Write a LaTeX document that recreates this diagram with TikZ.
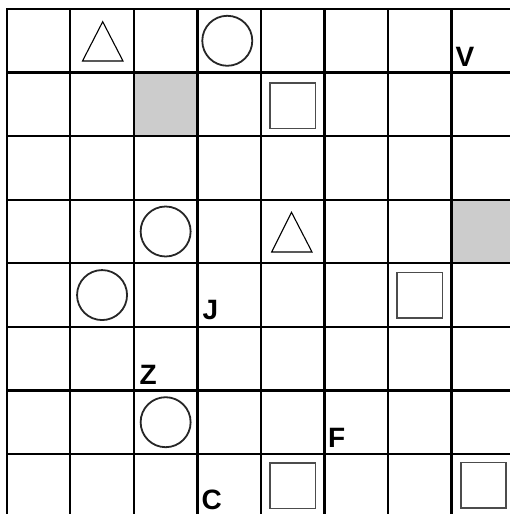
\documentclass[tikz,border=0pt]{standalone}
\usepackage{fontspec}
\setmainfont{Liberation Sans}
\tikzset{
  gridline/.style={line width=2.4pt, black, line cap=rect},
  shade/.style={fill=black!20, draw=none},
  circ/.style={circle, draw=black!85, line width=1.8pt, minimum size=50pt, inner sep=0pt},
  sq/.style={rectangle, draw=black!70, line width=1.6pt, minimum size=45.5pt, inner sep=0pt},
  tri/.style={draw=black, line width=1.1pt, line join=miter},
  lab/.style={font=\bfseries\fontsize{28}{28}\selectfont, inner sep=0pt, anchor=base west, text=black}
}
\begin{document}
\begin{tikzpicture}[x=1pt,y=-1pt]
\useasboundingbox (0,0) rectangle (510,514);
\fill[white] (0,0) rectangle (510,514);
\clip (0,0) rectangle (510,514);
\begin{scope}[shift={(6.7,9)}, x=63.57pt, y=-63.57pt]
  % grey cells
  \fill[shade] (2,1) rectangle (3,2);
  \fill[shade] (7,3) rectangle (8,4);
  % grid
  \foreach \i in {0,...,8} {
    \draw[gridline] (\i,0) -- (\i,8.2);
    \draw[gridline] (0,\i) -- (8.2,\i);
  }
  % circles
  \node[circ] (o1) at (3.47,0.5) {};
  \node[circ] (o2) at (2.5,3.5) {};
  \node[circ] (o3) at (1.5,4.5) {};
  \node[circ] (o4) at (2.5,6.5) {};
  % squares
  \node[sq] (s1) at (4.5,1.52) {};
  \node[sq] (s2) at (6.5,4.5) {};
  \node[sq] (s3) at (4.5,7.5) {};
  \node[sq] (s4) at (7.5,7.49) {};
\end{scope}
% triangles
\draw[tri] (102.7,21.7) -- (82.5,61) -- (123,61) -- cycle;
\draw[tri] (291.5,212.3) -- (271.7,252) -- (312,252) -- cycle;
% labels
\node[lab] (V) at (455.5,66.5) {V};
\node[lab] (J) at (202.5,319) {J};
\node[lab] (Z) at (139.5,384) {Z};
\node[lab] (F) at (328,447.5) {F};
\node[lab] (C) at (201.3,509.3) {C};
\end{tikzpicture}
\end{document}
